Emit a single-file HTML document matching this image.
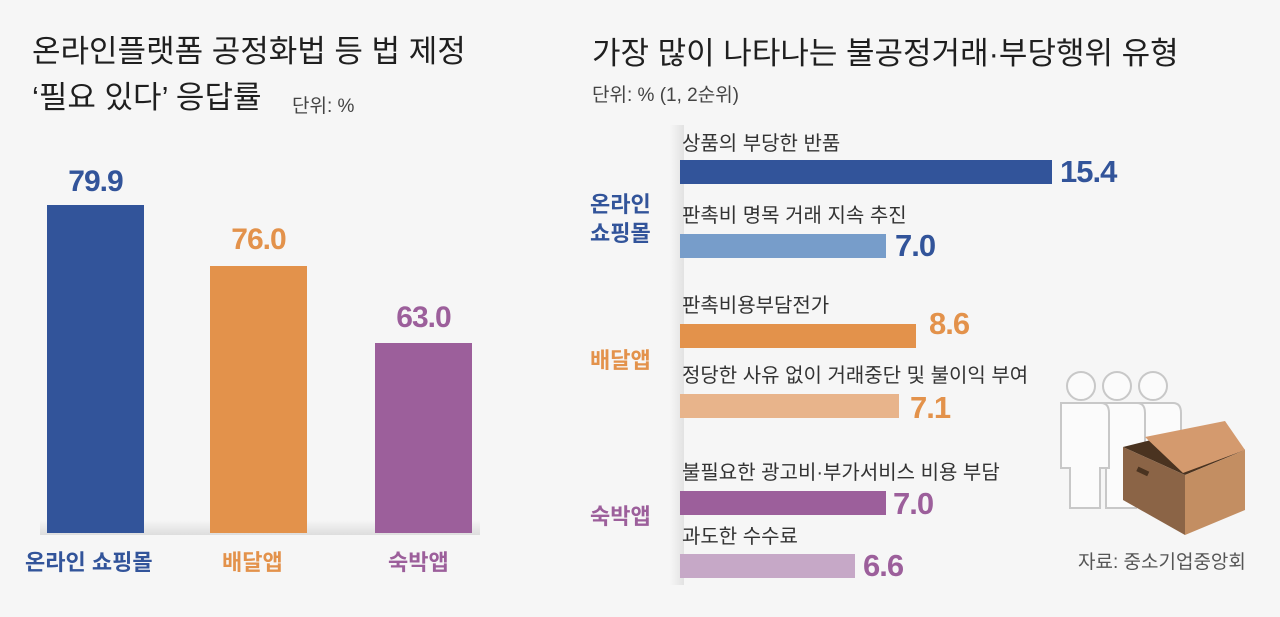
<!DOCTYPE html>
<html><head><meta charset="utf-8"><style>
body{margin:0;width:1280px;height:617px;background:#f6f6f6;position:relative;overflow:hidden;font-family:"Liberation Sans","Noto Sans CJK KR",sans-serif}
.a{position:absolute;white-space:nowrap;line-height:1}
.t{font-size:31px;color:#1f1f1f}
.s{font-size:19px;color:#444}
.v{font-weight:bold;letter-spacing:-1px}
.b{position:absolute}
.l{font-size:20px;color:#333}
.g{font-weight:bold;font-size:22px}
</style></head><body>
<div class="a t" style="left:32px;top:36px">온라인플랫폼 공정화법 등 법 제정</div>
<div class="a t" style="left:32px;top:82px">‘필요 있다’ 응답률</div>
<div class="a s" style="left:292px;top:97px">단위: %</div>
<div class="b" style="left:40px;top:520px;width:440px;height:15px;background:linear-gradient(#f6f6f6,#ddd)"></div>
<div class="b" style="left:47px;top:205px;width:97px;height:328px;background:#32549a"></div>
<div class="b" style="left:210px;top:266px;width:97px;height:267px;background:#e3924b"></div>
<div class="b" style="left:375px;top:343px;width:97px;height:190px;background:#9c5f9b"></div>
<div class="a v" style="left:52px;top:167px;width:87px;text-align:center;font-size:30px;color:#32549a">79.9</div>
<div class="a v" style="left:212px;top:225px;width:93px;text-align:center;font-size:30px;color:#e3924b">76.0</div>
<div class="a v" style="left:377px;top:303px;width:93px;text-align:center;font-size:30px;color:#9c5f9b">63.0</div>
<div class="a g" style="left:25px;top:552px;color:#32549a">온라인 쇼핑몰</div>
<div class="a g" style="left:222px;top:552px;color:#e3924b">배달앱</div>
<div class="a g" style="left:388px;top:552px;color:#9c5f9b">숙박앱</div>

<div class="a t" style="left:592px;top:38px">가장 많이 나타나는 불공정거래·부당행위 유형</div>
<div class="a s" style="left:592px;top:86px">단위: % (1, 2순위)</div>
<div class="b" style="left:670px;top:125px;width:14px;height:460px;background:linear-gradient(90deg,#f6f6f6,#e2e2e2)"></div>
<div class="a g" style="left:590px;top:190px;color:#32549a;line-height:29px">온라인<br>쇼핑몰</div>
<div class="a g" style="left:590px;top:350px;color:#e3924b">배달앱</div>
<div class="a g" style="left:590px;top:506px;color:#9c5f9b">숙박앱</div>

<div class="a l" style="left:682px;top:134px">상품의 부당한 반품</div>
<div class="b" style="left:680px;top:160px;width:372px;height:24px;background:#32549a"></div>
<div class="a v" style="left:1060px;top:156px;font-size:31px;color:#32549a">15.4</div>
<div class="a l" style="left:682px;top:206px">판촉비 명목 거래 지속 추진</div>
<div class="b" style="left:680px;top:234px;width:206px;height:24px;background:#779dca"></div>
<div class="a v" style="left:895px;top:230px;font-size:31px;color:#32549a">7.0</div>
<div class="a l" style="left:682px;top:296px">판촉비용부담전가</div>
<div class="b" style="left:680px;top:324px;width:236px;height:24px;background:#e3924b"></div>
<div class="a v" style="left:929px;top:308px;font-size:31px;color:#e3924b">8.6</div>
<div class="a l" style="left:682px;top:366px">정당한 사유 없이 거래중단 및 불이익 부여</div>
<div class="b" style="left:680px;top:394px;width:219px;height:24px;background:#e8b48b"></div>
<div class="a v" style="left:910px;top:392px;font-size:31px;color:#e3924b">7.1</div>
<div class="a l" style="left:682px;top:463px">불필요한 광고비·부가서비스 비용 부담</div>
<div class="b" style="left:680px;top:491px;width:206px;height:24px;background:#9c5f9b"></div>
<div class="a v" style="left:893px;top:488px;font-size:31px;color:#9c5f9b">7.0</div>
<div class="a l" style="left:682px;top:527px">과도한 수수료</div>
<div class="b" style="left:680px;top:554px;width:175px;height:24px;background:#c6a8c7"></div>
<div class="a v" style="left:863px;top:550px;font-size:31px;color:#9c5f9b">6.6</div>

<svg class="b" style="left:1045px;top:365px" width="210" height="180">
<g fill="#fbfbfb" stroke="#c8c8c8" stroke-width="2">
<g transform="translate(72,0)"><circle cx="36" cy="21" r="14"/><path d="M16 38h40q8 0 8 10v55h-9v40h-30v-40h-9v-55q0-10 0-10z"/></g>
<g transform="translate(36,0)"><circle cx="36" cy="21" r="14"/><path d="M16 38h40q8 0 8 10v55h-9v40h-30v-40h-9v-55q0-10 0-10z"/></g>
<g><circle cx="36" cy="21" r="14"/><path d="M16 38h40q8 0 8 10v55h-9v40h-30v-40h-9v-55q0-10 0-10z"/></g>
</g>
<polygon points="78,82 140,110 200,85 175,58" fill="#4a3320"/>
<polygon points="78,82 140,110 140,170 78,135" fill="#8b6446"/>
<polygon points="140,110 200,85 200,145 140,170" fill="#c38e62"/>
<polygon points="100,72 138,108 200,85 180,56" fill="#d49a6e"/>
<rect x="92" y="104" width="12" height="5" fill="#4a3320" transform="rotate(25 98 106)"/>
</svg>
<div class="a" style="left:1078px;top:553px;font-size:19px;color:#555">자료: 중소기업중앙회</div>
</body></html>
